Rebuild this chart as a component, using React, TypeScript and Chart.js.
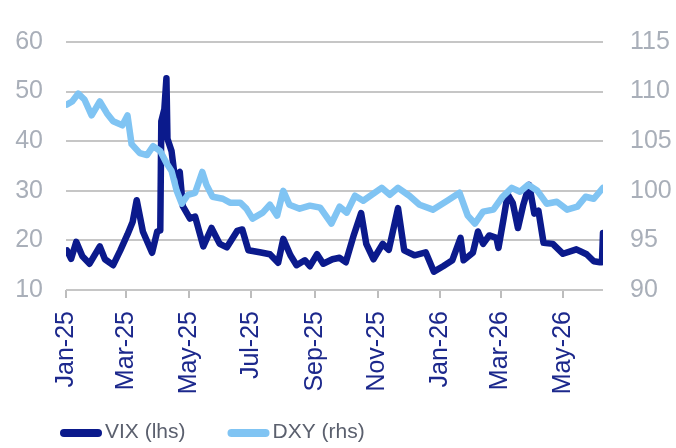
import React, { useEffect, useRef } from "react";
import { Chart, registerables } from "chart.js";

Chart.register(...registerables);

const tickDates = ["2025-01-01", "2025-03-01", "2025-05-01", "2025-07-01", "2025-09-01", "2025-11-01", "2026-01-01", "2026-03-01", "2026-05-01"];
const tickLabels = ["Jan-25", "Mar-25", "May-25", "Jul-25", "Sep-25", "Nov-25", "Jan-26", "Mar-26", "May-26"];

const seriesLabels = ["VIX (lhs)", "DXY (rhs)"];

const vixDates = [
  "2025-01-02", "2025-01-06", "2025-01-11", "2025-01-17", "2025-01-24", "2025-02-03", "2025-02-08", "2025-02-16", "2025-02-23",
  "2025-03-02", "2025-03-07", "2025-03-11", "2025-03-17", "2025-03-26", "2025-03-31", "2025-04-03", "2025-04-04", "2025-04-07",
  "2025-04-09", "2025-04-10", "2025-04-14", "2025-04-17", "2025-04-22", "2025-04-25", "2025-05-02", "2025-05-07", "2025-05-15",
  "2025-05-23", "2025-05-31", "2025-06-07", "2025-06-17", "2025-06-22", "2025-06-28", "2025-07-09", "2025-07-19", "2025-07-27",
  "2025-08-01", "2025-08-08", "2025-08-14", "2025-08-22", "2025-08-27", "2025-09-03", "2025-09-09", "2025-09-18", "2025-09-25",
  "2025-10-01", "2025-10-09", "2025-10-16", "2025-10-21", "2025-10-28", "2025-11-06", "2025-11-12", "2025-11-21", "2025-11-27",
  "2025-12-07", "2025-12-18", "2025-12-26", "2026-01-04", "2026-01-13", "2026-01-21", "2026-01-24", "2026-02-02", "2026-02-07",
  "2026-02-12", "2026-02-18", "2026-02-25", "2026-02-27", "2026-03-04", "2026-03-08", "2026-03-13", "2026-03-18", "2026-03-23",
  "2026-03-29", "2026-04-03", "2026-04-07", "2026-04-12", "2026-04-21", "2026-05-01", "2026-05-14", "2026-05-24", "2026-05-31",
  "2026-06-06", "2026-06-08", "2026-06-09",
];
const vixValues = [
  18, 16.3, 19.7, 16.8, 15.3, 18.8, 16.2, 15, 18,
  21.2, 23.7, 28.1, 21.8, 17.5, 21.8, 22, 44, 46.5,
  52.7, 40.5, 38, 33, 33.8, 26.9, 24.4, 24.8, 18.8,
  22.5, 19.3, 18.6, 21.9, 22.2, 18, 17.6, 17.2, 15.5,
  20.3, 17, 15, 16, 14.8, 17.2, 15.3, 16.2, 16.5,
  15.6, 21.2, 25.5, 19.3, 16.2, 19.3, 18.1, 26.5, 18,
  17, 17.6, 13.7, 14.8, 16, 20.5, 16, 17.5, 21.8,
  19.3, 21, 20.5, 18.5, 24.4, 29.3, 27.5, 22.5, 27,
  31.2, 25.4, 26, 19.5, 19.3, 17.3, 18.2, 17.2, 15.8,
  15.6, 15.6, 21.5,
];

const dxyDates = [
  "2025-01-02", "2025-01-07", "2025-01-13", "2025-01-19", "2025-01-26", "2025-02-03", "2025-02-10", "2025-02-16", "2025-02-25",
  "2025-03-02", "2025-03-06", "2025-03-14", "2025-03-21", "2025-03-27", "2025-04-03", "2025-04-09", "2025-04-14", "2025-04-19",
  "2025-04-24", "2025-04-30", "2025-05-07", "2025-05-14", "2025-05-18", "2025-05-24", "2025-06-03", "2025-06-10", "2025-06-20",
  "2025-06-26", "2025-07-02", "2025-07-12", "2025-07-19", "2025-07-26", "2025-08-01", "2025-08-07", "2025-08-17", "2025-08-27",
  "2025-09-06", "2025-09-17", "2025-09-25", "2025-10-02", "2025-10-10", "2025-10-18", "2025-11-05", "2025-11-13", "2025-11-21",
  "2025-12-02", "2025-12-12", "2025-12-25", "2026-01-08", "2026-01-20", "2026-01-28", "2026-02-04", "2026-02-12", "2026-02-22",
  "2026-03-03", "2026-03-12", "2026-03-20", "2026-03-28", "2026-04-06", "2026-04-15", "2026-04-25", "2026-05-05", "2026-05-15",
  "2026-05-23", "2026-05-31", "2026-06-09",
];
const dxyValues = [
  108.7, 109, 109.8, 109.2, 107.6, 109, 107.8, 107, 106.6,
  107.6, 104.7, 103.8, 103.6, 104.5, 104, 102.8, 102, 100,
  98.7, 99.6, 99.8, 101.9, 100.6, 99.4, 99.2, 98.8, 98.8,
  98.2, 97.2, 97.8, 98.6, 97.5, 100, 98.6, 98.2, 98.5,
  98.3, 96.7, 98.4, 97.8, 99.5, 99, 100.3, 99.6, 100.3,
  99.5, 98.6, 98.1, 99, 99.8, 97.5, 96.7, 97.9, 98.1,
  99.4, 100.3, 99.9, 100.6, 100, 98.7, 98.9, 98.1, 98.4,
  99.4, 99.2, 100.3,
];

const ORIGIN = Date.UTC(2025, 0, 1);
const toDay = (s: string) => {
  const [y, m, d] = s.split("-").map(Number);
  return (Date.UTC(y, m - 1, d) - ORIGIN) / 86400000;
};

const FONT = "'Liberation Sans', Arial, sans-serif";
const VIX_COLOR = "#0b1a8c";
const DXY_COLOR = "#80c4f3";

const legendPlugin = {
  id: "bottomLegend",
  afterDraw(chart: any) {
    const ctx = chart.ctx;
    ctx.save();
    ctx.font = `21px ${FONT}`;
    ctx.textBaseline = "middle";
    let x = chart.chartArea.left - 6;
    const y = 432;
    chart.data.datasets.forEach((ds: any) => {
      ctx.strokeStyle = ds.borderColor;
      ctx.lineWidth = 8;
      ctx.lineCap = "round";
      ctx.beginPath();
      ctx.moveTo(x + 4, y + 1);
      ctx.lineTo(x + 38, y + 1);
      ctx.stroke();
      ctx.fillStyle = "#5b606e";
      ctx.fillText(ds.label, x + 45, y);
      x += 45 + ctx.measureText(ds.label).width + 42;
    });
    ctx.restore();
  },
};

export default function App() {
  const ref = useRef<HTMLCanvasElement>(null);

  useEffect(() => {
    if (!ref.current) return;
    const tickValues = tickDates.map(toDay);
    const xMax = toDay(vixDates[vixDates.length - 1]);
    const chart = new Chart(ref.current, {
      type: "line",
      data: {
        datasets: [
          {
            label: seriesLabels[0],
            data: vixDates.map((d, i) => ({ x: toDay(d), y: vixValues[i] })),
            borderColor: VIX_COLOR,
            backgroundColor: VIX_COLOR,
            borderWidth: 6.5,
            pointRadius: 0,
            borderJoinStyle: "round",
            borderCapStyle: "round",
            yAxisID: "y",
            order: 1,
          },
          {
            label: seriesLabels[1],
            data: dxyDates.map((d, i) => ({ x: toDay(d), y: dxyValues[i] })),
            borderColor: DXY_COLOR,
            backgroundColor: DXY_COLOR,
            borderWidth: 6.5,
            pointRadius: 0,
            borderJoinStyle: "round",
            borderCapStyle: "round",
            yAxisID: "y1",
            order: 0,
          },
        ],
      },
      options: {
        animation: false,
        responsive: true,
        maintainAspectRatio: false,
        layout: { padding: { top: 23, left: 0, right: 0, bottom: 50 } },
        plugins: {
          legend: { display: false },
          tooltip: { enabled: false },
        },
        scales: {
          x: {
            type: "linear",
            min: 0,
            max: xMax,
            afterBuildTicks: (scale: any) => {
              scale.ticks = tickValues.map((v) => ({ value: v }));
            },
            afterFit: (scale: any) => {
              scale.height = 108;
            },
            ticks: {
              autoSkip: false,
              minRotation: 90,
              maxRotation: 90,
              padding: 13,
              color: "#1c288c",
              font: { family: FONT, size: 25 },
              callback: (value: any) => {
                const idx = tickValues.indexOf(Number(value));
                return idx >= 0 ? tickLabels[idx] : "";
              },
            },
            grid: {
              drawOnChartArea: false,
              drawTicks: true,
              tickLength: 8,
              color: "#bdbdbd",
              lineWidth: 2,
            },
            border: { display: false },
          },
          y: {
            position: "left",
            min: 10,
            max: 60,
            afterFit: (scale: any) => {
              scale.width = 66;
            },
            ticks: {
              stepSize: 10,
              padding: 23,
              color: "#a9afb9",
              font: { family: FONT, size: 25 },
            },
            grid: { color: "#c6c6c6", lineWidth: 2, drawTicks: false },
            border: { display: false },
          },
          y1: {
            position: "right",
            min: 90,
            max: 115,
            afterFit: (scale: any) => {
              scale.width = 73;
            },
            ticks: {
              stepSize: 5,
              padding: 27,
              color: "#a9afb9",
              font: { family: FONT, size: 25 },
            },
            grid: { drawOnChartArea: false, drawTicks: false },
            border: { display: false },
          },
        },
      },
      plugins: [legendPlugin],
    });
    return () => chart.destroy();
  }, []);

  return (
    <div style={{ position: "absolute", left: 0, top: 0, width: 676, height: 448, background: "#fff" }}>
      <canvas ref={ref} />
    </div>
  );
}
